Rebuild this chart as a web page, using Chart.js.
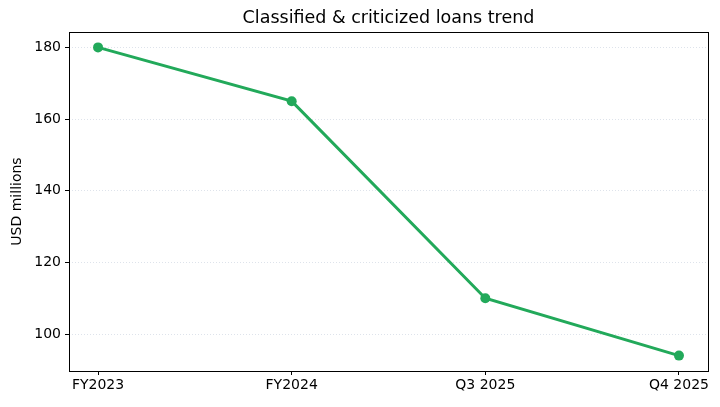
<!DOCTYPE html>
<html>
<head>
<meta charset="utf-8">
<script src="https://cdn.jsdelivr.net/npm/chart.js@4/dist/chart.umd.min.js"></script>
<style>
  html, body { margin: 0; padding: 0; background: #fff; }
  #wrap { width: 720px; height: 407px; }
</style>
</head>
<body>
<div id="wrap"><canvas id="loansChart"></canvas></div>
<script>
const categories = ["FY2023", "FY2024", "Q3 2025", "Q4 2025"];
const loans = [180, 165, 110, 94];
const yTicks = [100, 120, 140, 160, 180];

const font = "DejaVu Sans";

// frame + title like the original figure
const framePlugin = {
    id: "frame",
    afterDraw(chart) {
        const { ctx, chartArea: a } = chart;
        ctx.save();
        ctx.strokeStyle = "#000";
        ctx.lineWidth = 1;
        ctx.strokeRect(Math.round(a.left) + 0.5, Math.round(a.top) + 0.5,
            Math.round(a.right - a.left), Math.round(a.bottom - a.top));
        ctx.fillStyle = "#000";
        ctx.font = "17.5px '" + font + "'";
        ctx.textAlign = "center";
        ctx.textBaseline = "middle";
        ctx.fillText("Classified & criticized loans trend", (a.left + a.right) / 2, 18);
        ctx.restore();
    }
};

const ctx = document.getElementById("loansChart");

new Chart(ctx, {
    type: "line",
    data: {
        datasets: [{
            data: loans.map((v, i) => ({ x: i, y: v })),
            borderColor: "#22a95a",
            backgroundColor: "#22a95a",
            borderWidth: 3,
            pointRadius: 5,
            pointHoverRadius: 5,
            pointBorderWidth: 0,
            tension: 0,
        }],
    },
    options: {
        responsive: true,
        maintainAspectRatio: false,
        animation: false,
        layout: {
            padding: { top: 32, right: 12, left: 0, bottom: 0 }
        },
        plugins: {
            legend: { display: false },
            tooltip: { enabled: false },
            title: { display: false },
        },
        scales: {
            x: {
                type: "linear",
                min: -0.15,
                max: 3.15,
                afterBuildTicks: (scale) => {
                    scale.ticks = categories.map((c, i) => ({ value: i }));
                },
                afterFit: (scale) => { scale.height = 36; },
                grid: {
                    drawOnChartArea: false,
                    drawTicks: true,
                    tickLength: 4,
                    tickColor: "#000",
                },
                border: { display: false },
                ticks: {
                    color: "#000",
                    padding: 2,
                    maxRotation: 0,
                    font: { family: font, size: 14 },
                    callback: (v) => categories[v],
                },
            },
            y: {
                min: 89.7,
                max: 184.3,
                afterBuildTicks: (scale) => {
                    scale.ticks = yTicks.map(v => ({ value: v }));
                },
                afterFit: (scale) => { scale.width = 69; },
                grid: {
                    color: "rgba(180,190,210,0.55)",
                    lineWidth: 0.8,
                    tickLength: 4,
                    tickColor: "#000",
                    tickWidth: 1,
                    tickBorderDash: [],
                },
                border: { display: false, dash: [1, 2] },
                ticks: {
                    color: "#000",
                    padding: 4,
                    font: { family: font, size: 14 },
                },
                title: {
                    display: true,
                    text: "USD millions",
                    color: "#000",
                    font: { family: font, size: 14 },
                    padding: { top: 9, bottom: 2 },
                },
            },
        },
    },
    plugins: [framePlugin],
});
</script>
</body>
</html>
